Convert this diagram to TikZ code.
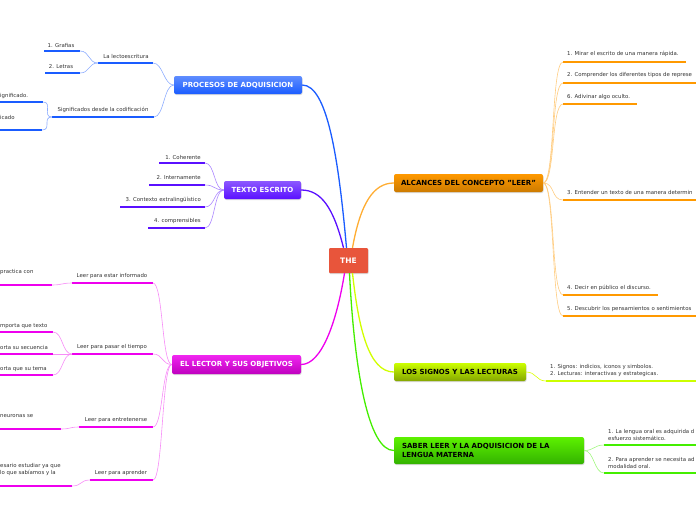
\documentclass[tikz,border=0pt]{standalone}
\usepackage{fontspec}
\setmainfont{DejaVu Sans}
\usetikzlibrary{shadows}

\definecolor{rojo}{HTML}{E8553B}
\definecolor{azul}{HTML}{1A5CFF}
\definecolor{morado}{HTML}{5A10FF}
\definecolor{magenta}{HTML}{EE00EE}
\definecolor{naranja}{HTML}{FF9900}
\definecolor{lima}{HTML}{CCFF00}
\definecolor{verde}{HTML}{44EE00}
\definecolor{gris}{HTML}{333333}

\tikzset{
  tema/.style={rounded corners=2pt, inner sep=0pt, minimum height=18pt,
    font=\fontsize{7}{9}\selectfont\bfseries,
    drop shadow={opacity=0.3, shadow xshift=0.5pt, shadow yshift=-1pt}},
  hoja/.style={font=\fontsize{5.4}{7}\selectfont, text=gris, inner sep=0pt},
  raya/.style={line width=2.4pt},
  rama/.style={line width=1.3pt},
  ramita/.style={line width=0.6pt}
}

\begin{document}
\begin{tikzpicture}[x=1pt,y=-1pt]

  \useasboundingbox (0,0) rectangle (696,520);
  \clip (0,0) rectangle (696,520);

  % Nodo central
  \node[tema, fill=rojo, text=white, rounded corners=1pt, minimum width=39pt,
        minimum height=25pt, font=\fontsize{7.5}{9}\selectfont\bfseries] (the) at (348.5,260.5) {THE};

  % Los seis temas principales
  \node[tema, top color=azul!70!white, bottom color=azul, text=white, minimum width=128pt] (proc) at (238,85) {PROCESOS DE ADQUISICION};
  \node[tema, top color=morado!70!white, bottom color=morado, text=white, minimum width=77pt] (texto) at (262.5,190) {TEXTO ESCRITO};
  \node[tema, top color=magenta!85!white, bottom color=magenta!80!black, text=white, minimum width=129pt, minimum height=19pt] (lector) at (236.5,364.5) {EL LECTOR Y SUS OBJETIVOS};
  \node[tema, top color=naranja, bottom color=naranja!80!black, text=black, minimum width=149pt] (alc) at (468.5,183) {ALCANCES DEL CONCEPTO "LEER"};
  \node[tema, top color=lima, bottom color=lima!65!black, text=black, minimum width=132pt] (signos) at (460,372) {LOS SIGNOS Y LAS LECTURAS};
  \node[tema, top color=verde!80!lime, bottom color=verde!75!black, text=black, minimum width=190pt,
        minimum height=27pt, inner xsep=8pt, text width=174pt, align=left] (saber) at (489,450.5) {SABER LEER Y LA ADQUISICION DE LA\\LENGUA MATERNA};

  % Ramas desde el nodo central
  \draw[rama, azul] ([xshift=-2pt]the.north) .. controls +(-8,-90) and +(25,0) .. (proc.east);
  \draw[rama, morado] ([xshift=-5pt]the.north) .. controls +(-10,-40) and +(20,0) .. (texto.east);
  \draw[rama, naranja!80!white] ([xshift=4pt]the.north) .. controls +(8,-45) and +(-20,0) .. (alc.west);
  \draw[rama, magenta] ([xshift=-4pt]the.south) .. controls +(-8,50) and +(20,0) .. (lector.east);
  \draw[rama, lima!90!yellow] ([xshift=4pt]the.south) .. controls +(6,55) and +(-25,0) .. (signos.west);
  \draw[rama, verde] ([xshift=1pt]the.south) .. controls +(5,100) and +(-25,0) .. (saber.west);

  % PROCESOS DE ADQUISICION
  \coordinate (lectoA) at (98,63);   \coordinate (lectoB) at (153,63);
  \coordinate (grafA) at (44,51);    \coordinate (grafB) at (80,51);
  \coordinate (letA) at (45,73);     \coordinate (letB) at (80,73);
  \coordinate (signA) at (52,117);   \coordinate (signB) at (154,117);
  \coordinate (sigA) at (0,102);     \coordinate (sigB) at (43,102);
  \coordinate (codA) at (0,130);     \coordinate (codB) at (42,130);
  \node[hoja] (lecto) at (126,56) {La lectoescritura};
  \node[hoja] (graf) at (61,45) {1. Grafias};
  \node[hoja] (let) at (61,67) {2. Letras};
  \node[hoja] (sign) at (103,110) {Significados desde la codificación};
  \node[hoja, anchor=west] (sig) at (0,96) {ignificado.};
  \node[hoja, anchor=west] (cod) at (0,117) {icado};
  \foreach \a/\b in {lectoA/lectoB, grafA/grafB, letA/letB, signA/signB, sigA/sigB, codA/codB}
    \draw[raya, azul] (\a) -- (\b);
  \draw[ramita, azul!50] (proc.west) .. controls +(-10,0) and +(10,0) .. (lectoB);
  \draw[ramita, azul!50] (proc.west) .. controls +(-10,0) and +(10,0) .. (signB);
  \draw[ramita, azul!50] (lectoA) .. controls +(-10,0) and +(10,0) .. (grafB);
  \draw[ramita, azul!50] (lectoA) .. controls +(-10,0) and +(10,0) .. (letB);
  \draw[ramita, azul!50] (signA) .. controls +(-10,0) and +(10,0) .. (sigB);
  \draw[ramita, azul!50] (signA) .. controls +(-10,0) and +(10,0) .. (codB);

  % TEXTO ESCRITO
  \coordinate (coherA) at (159,163); \coordinate (coherB) at (205,163);
  \coordinate (interA) at (149,185); \coordinate (interB) at (205,185);
  \coordinate (contA) at (120,207);  \coordinate (contB) at (205,207);
  \coordinate (compA) at (148,228);  \coordinate (compB) at (205,228);
  \node[hoja, anchor=east] (coher) at (201,157) {1. Coherente};
  \node[hoja, anchor=east] (inter) at (201,178) {2. Internamente};
  \node[hoja, anchor=east] (cont) at (201,200) {3. Contexto extralingüístico};
  \node[hoja, anchor=east] (comp) at (201,221) {4. comprensibles};
  \foreach \a/\b in {coherA/coherB, interA/interB, contA/contB, compA/compB} {
    \draw[raya, morado] (\a) -- (\b);
    \draw[ramita, morado!50] (texto.west) .. controls +(-10,0) and +(10,0) .. (\b);
  }

  % EL LECTOR Y SUS OBJETIVOS
  \coordinate (infoA) at (72,283);   \coordinate (infoB) at (153,283);
  \coordinate (tiempoA) at (72,354); \coordinate (tiempoB) at (153,354);
  \coordinate (entreA) at (79,427);  \coordinate (entreB) at (153,427);
  \coordinate (aprenA) at (90,480);  \coordinate (aprenB) at (153,480);
  \coordinate (inf1A) at (0,285);    \coordinate (inf1B) at (52,285);
  \coordinate (t1A) at (0,332);      \coordinate (t1B) at (53,332);
  \coordinate (t2A) at (0,354);      \coordinate (t2B) at (53,354);
  \coordinate (t3A) at (0,375);      \coordinate (t3B) at (53,375);
  \coordinate (e1A) at (0,429);      \coordinate (e1B) at (61,429);
  \coordinate (a1A) at (0,486);      \coordinate (a1B) at (72,486);
  \node[hoja] (info) at (112,276) {Leer para estar informado};
  \node[hoja] (tiempo) at (112,347) {Leer para pasar el tiempo};
  \node[hoja] (entre) at (116,420) {Leer para entretenerse};
  \node[hoja] (apren) at (121,473) {Leer para aprender};
  \node[hoja, anchor=west] (inf1) at (0,272) {practica con};
  \node[hoja, anchor=west] (t1) at (0,326) {mporta que texto};
  \node[hoja, anchor=west] (t2) at (0,347) {orta su secuencia};
  \node[hoja, anchor=west] (t3) at (0,369) {orta que su tema};
  \node[hoja, anchor=west] (e1) at (0,416) {neuronas se};
  \node[hoja, anchor=west, align=left] (a1) at (0,469.5) {esario estudiar ya que\\lo que sabíamos y la};
  \foreach \a/\b in {infoA/infoB, tiempoA/tiempoB, entreA/entreB, aprenA/aprenB,
                     inf1A/inf1B, t1A/t1B, t2A/t2B, t3A/t3B, e1A/e1B, a1A/a1B}
    \draw[raya, magenta] (\a) -- (\b);
  \foreach \b in {infoB, tiempoB, entreB, aprenB}
    \draw[ramita, magenta!45] (lector.west) .. controls +(-10,0) and +(10,0) .. (\b);
  \draw[ramita, magenta!45] (infoA) .. controls +(-10,0) and +(10,0) .. (inf1B);
  \draw[ramita, magenta!45] (tiempoA) .. controls +(-10,0) and +(10,0) .. (t1B);
  \draw[ramita, magenta!45] (tiempoA) .. controls +(-10,0) and +(10,0) .. (t2B);
  \draw[ramita, magenta!45] (tiempoA) .. controls +(-10,0) and +(10,0) .. (t3B);
  \draw[ramita, magenta!45] (entreA) .. controls +(-10,0) and +(10,0) .. (e1B);
  \draw[ramita, magenta!45] (aprenA) .. controls +(-10,0) and +(10,0) .. (a1B);

  % ALCANCES DEL CONCEPTO "LEER"
  \coordinate (r1A) at (563,62);  \coordinate (r1B) at (686,62);
  \coordinate (r2A) at (563,83);  \coordinate (r2B) at (696,83);
  \coordinate (r3A) at (563,104); \coordinate (r3B) at (637,104);
  \coordinate (r4A) at (563,200); \coordinate (r4B) at (696,200);
  \coordinate (r5A) at (563,295); \coordinate (r5B) at (658,295);
  \coordinate (r6A) at (563,316); \coordinate (r6B) at (696,316);
  \node[hoja, anchor=west] (r1) at (567,54) {1. Mirar el escrito de una manera rápida.};
  \node[hoja, anchor=west] (r2) at (567,75) {2. Comprender los diferentes tipos de represe};
  \node[hoja, anchor=west] (r3) at (567,97) {6. Adivinar algo oculto.};
  \node[hoja, anchor=west] (r4) at (567,192) {3. Entender un texto de una manera determin};
  \node[hoja, anchor=west] (r5) at (567,288) {4. Decir en público el discurso.};
  \node[hoja, anchor=west] (r6) at (567,309) {5. Descubrir los pensamientos o sentimientos};
  \foreach \a/\b in {r1A/r1B, r2A/r2B, r3A/r3B, r4A/r4B, r5A/r5B, r6A/r6B} {
    \draw[raya, naranja] (\a) -- (\b);
    \draw[ramita, naranja!50] (alc.east) .. controls +(12,0) and +(-12,0) .. (\a);
  }

  % LOS SIGNOS Y LAS LECTURAS
  \coordinate (lecA) at (546,381); \coordinate (lecB) at (696,381);
  \node[hoja, anchor=west, align=left] (lec) at (550,370.5) {1. Signos: indicios, iconos y simbolos.\\2. Lecturas: interactivas y estrategicas.};
  \draw[raya, lima] (lecA) -- (lecB);
  \draw[ramita, lima!70!yellow] (signos.east) .. controls +(10,0) and +(-10,0) .. (lecA);

  % SABER LEER Y LA ADQUISICION DE LA LENGUA MATERNA
  \coordinate (s1A) at (604,445); \coordinate (s1B) at (696,445);
  \coordinate (s2A) at (604,473); \coordinate (s2B) at (696,473);
  \node[hoja, anchor=west, align=left] (s1) at (608,435) {1. La lengua oral es adquirida d\\esfuerzo sistemático.};
  \node[hoja, anchor=west, align=left] (s2) at (608,463) {2. Para aprender se necesita ad\\modalidad oral.};
  \draw[raya, verde] (s1A) -- (s1B);
  \draw[raya, verde] (s2A) -- (s2B);
  \draw[ramita, verde!50] (saber.east) .. controls +(10,0) and +(-10,0) .. (s1A);
  \draw[ramita, verde!50] (saber.east) .. controls +(10,0) and +(-10,0) .. (s2A);

\end{tikzpicture}
\end{document}
